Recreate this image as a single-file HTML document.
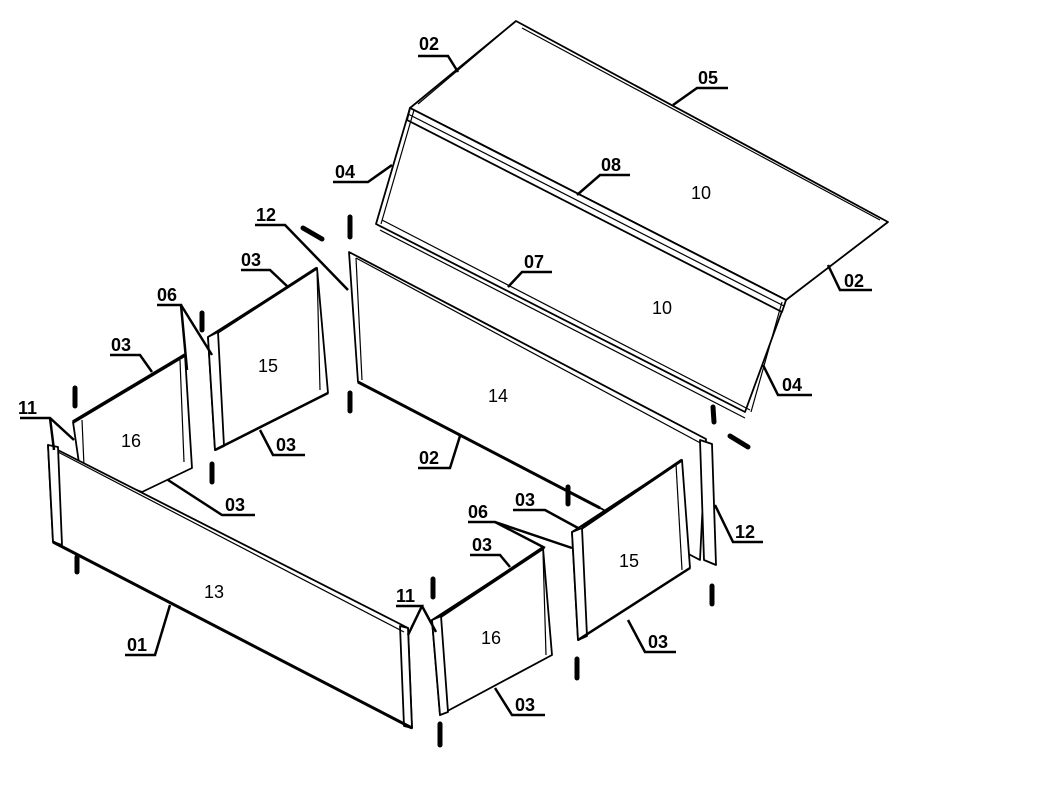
<!DOCTYPE html>
<html><head><meta charset="utf-8"><style>
html,body{margin:0;padding:0;background:#fff;}
svg{display:block;}
text{font-family:"Liberation Sans",Arial,sans-serif;font-size:18px;fill:#000;}
.l{font-weight:bold;}
</style></head><body>
<svg width="1057" height="796" viewBox="0 0 1057 796" xmlns="http://www.w3.org/2000/svg">
<g fill="#fff" stroke="#000" stroke-width="1.8" stroke-linejoin="round">
<!-- Lid -->
<polygon points="516,21 888,222 786,300 410,108"/>
<line x1="522" y1="28" x2="880" y2="220" stroke-width="1.2"/>
<line x1="516" y1="21" x2="418" y2="104" stroke-width="1.2"/>
<line x1="888" y1="222" x2="790" y2="297" stroke-width="1.2"/>
<polygon points="410,108 786,300 745,412 376,224"/>
<polygon points="410,108 786,300 782,312 407,120"/>
<line x1="408" y1="114" x2="784" y2="306" stroke-width="1.2"/>
<line x1="382" y1="220" x2="750" y2="410" stroke-width="1.2"/>
<line x1="380" y1="230" x2="745" y2="418" stroke-width="1.2"/>
<line x1="414" y1="110" x2="381" y2="224" stroke-width="1.2"/>
<line x1="782" y1="302" x2="751" y2="412" stroke-width="1.2"/>
<!-- Back panel 14 -->
<polygon points="349,252 706,439 700,560 358,382"/>
<line x1="356" y1="258" x2="706" y2="446" stroke-width="1.2"/>
<line x1="356" y1="258" x2="362" y2="380" stroke-width="1.2"/>
<line x1="358" y1="382" x2="600" y2="508" stroke-width="3"/>
<!-- 12 right end -->
<polygon points="700,440 712,444 716,565 704,560"/>
<!-- Left panels -->
<polygon points="208,337 317,268 328,393 215,450"/>
<polygon points="208,337 218,332 224,446 215,450"/>
<line x1="317" y1="268" x2="320" y2="390" stroke-width="1.2"/>
<line x1="218" y1="332" x2="317" y2="268" stroke-width="3"/>
<line x1="215" y1="450" x2="328" y2="393" stroke-width="2.5"/>
<polygon points="73,422 185,355 192,468 142,492 80,470"/>
<line x1="73" y1="422" x2="185" y2="355" stroke-width="3.5"/>
<line x1="82" y1="420" x2="84" y2="466" stroke-width="1.2"/>
<line x1="180" y1="360" x2="184" y2="462" stroke-width="1.2"/>
<!-- Right panels -->
<polygon points="572,532 682,460 690,568 578,640"/>
<polygon points="572,532 582,528 587,636 578,640"/>
<line x1="676" y1="464" x2="682" y2="570" stroke-width="1.2"/>
<line x1="582" y1="528" x2="682" y2="460" stroke-width="3"/>
<line x1="578" y1="640" x2="690" y2="568" stroke-width="2.5"/>
<polygon points="432,620 543,548 552,655 440,715"/>
<polygon points="432,620 441,616 448,712 440,715"/>
<line x1="441" y1="616" x2="543" y2="548" stroke-width="3.5"/>
<line x1="543" y1="552" x2="546" y2="655" stroke-width="1.2"/>
<!-- Front panel 13 -->
<polygon points="48,445 408,628 412,728 53,542"/>
<polygon points="48,445 58,447 62,545 53,542"/>
<polygon points="400,626 408,628 412,728 404,726"/>
<line x1="58" y1="452" x2="404" y2="632" stroke-width="1.2"/>
<line x1="53" y1="542" x2="412" y2="728" stroke-width="3"/>
</g>
<!-- dowels -->
<g stroke="#000" stroke-width="5" stroke-linecap="round">
<line x1="75" y1="388" x2="75" y2="406"/>
<line x1="202" y1="313" x2="202" y2="330"/>
<line x1="212" y1="464" x2="212" y2="482"/>
<line x1="77" y1="557" x2="77" y2="572"/>
<line x1="350" y1="393" x2="350" y2="411"/>
<line x1="350" y1="217" x2="350" y2="237"/>
<line x1="303" y1="228" x2="322" y2="239"/>
<line x1="433" y1="579" x2="433" y2="597"/>
<line x1="440" y1="724" x2="440" y2="745"/>
<line x1="577" y1="659" x2="577" y2="678"/>
<line x1="568" y1="487" x2="568" y2="504"/>
<line x1="712" y1="586" x2="712" y2="604"/>
<line x1="713" y1="407" x2="714" y2="422"/>
<line x1="730" y1="436" x2="748" y2="447"/>
</g>
<!-- leaders -->
<g stroke="#000" stroke-width="2.5" fill="none">
<polyline points="418,56 448,56 458,72"/>
<polyline points="728,88 697,88 673,105"/>
<polyline points="630,175 600,175 577,195"/>
<polyline points="333,182 368,182 392,165"/>
<polyline points="255,225 285,225 348,290"/>
<polyline points="552,272 522,272 508,287"/>
<polyline points="872,290 840,290 828,265"/>
<polyline points="812,395 778,395 763,365"/>
<polyline points="241,270 270,270 288,287"/>
<polyline points="157,305 181,305 187,370"/>
<line x1="181" y1="305" x2="212" y2="355"/>
<polyline points="110,355 140,355 152,372"/>
<polyline points="20,418 50,418 74,440"/>
<line x1="50" y1="418" x2="54" y2="450"/>
<polyline points="305,455 273,455 260,430"/>
<polyline points="418,468 450,468 460,436"/>
<polyline points="255,515 222,515 168,480"/>
<polyline points="125,655 155,655 170,605"/>
<polyline points="396,606 422,606 408,635"/>
<line x1="422" y1="606" x2="436" y2="632"/>
<polyline points="513,510 545,510 578,528"/>
<polyline points="468,522 495,522 545,548"/>
<line x1="495" y1="522" x2="572" y2="548"/>
<polyline points="470,555 500,555 510,567"/>
<polyline points="763,542 733,542 715,505"/>
<polyline points="676,652 645,652 628,620"/>
<polyline points="545,715 512,715 495,688"/>
</g>
<g class="l">
<text x="419" y="50">02</text>
<text x="698" y="84">05</text>
<text x="601" y="171">08</text>
<text x="335" y="178">04</text>
<text x="256" y="221">12</text>
<text x="524" y="268">07</text>
<text x="844" y="287">02</text>
<text x="782" y="391">04</text>
<text x="241" y="266">03</text>
<text x="157" y="301">06</text>
<text x="111" y="351">03</text>
<text x="18" y="414">11</text>
<text x="276" y="451">03</text>
<text x="419" y="464">02</text>
<text x="225" y="511">03</text>
<text x="127" y="651">01</text>
<text x="396" y="602">11</text>
<text x="515" y="506">03</text>
<text x="468" y="518">06</text>
<text x="472" y="551">03</text>
<text x="735" y="538">12</text>
<text x="648" y="648">03</text>
<text x="515" y="711">03</text>
</g>
<g>
<text x="691" y="199">10</text>
<text x="652" y="314">10</text>
<text x="258" y="372">15</text>
<text x="121" y="447">16</text>
<text x="488" y="402">14</text>
<text x="204" y="598">13</text>
<text x="481" y="644">16</text>
<text x="619" y="567">15</text>
</g>
</svg>
</body></html>
